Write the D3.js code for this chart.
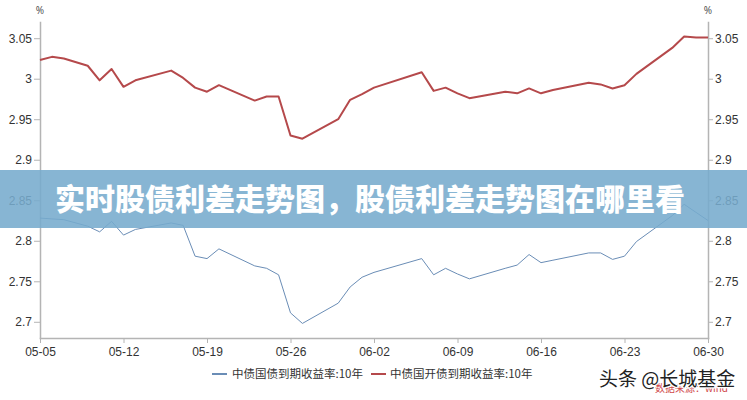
<!DOCTYPE html>
<html><head><meta charset="utf-8">
<script src="https://cdn.jsdelivr.net/npm/d3@7"></script>
<style>
html,body{margin:0;padding:0;background:#fff;}
svg{display:block;font-family:"Noto Sans","Noto Sans CJK SC",sans-serif;}
</style></head>
<body><svg id="c" width="747" height="400"></svg>
<script>
const dates = ["2022-05-05","2022-05-06","2022-05-07","2022-05-09","2022-05-10","2022-05-11","2022-05-12","2022-05-13",
"2022-05-16","2022-05-17","2022-05-18","2022-05-19","2022-05-20","2022-05-23","2022-05-24","2022-05-25","2022-05-26","2022-05-27",
"2022-05-30","2022-05-31","2022-06-01","2022-06-02","2022-06-06","2022-06-07","2022-06-08","2022-06-09","2022-06-10",
"2022-06-13","2022-06-14","2022-06-15","2022-06-16","2022-06-17","2022-06-20","2022-06-21","2022-06-22","2022-06-23","2022-06-24",
"2022-06-27","2022-06-28","2022-06-29","2022-06-30"];
const govBond10Y = [2.828,2.827,2.826,2.818,2.811,2.824,2.807,2.814,
2.822,2.819,2.781,2.778,2.790,2.769,2.766,2.758,2.711,2.698,
2.723,2.743,2.755,2.761,2.778,2.758,2.766,2.759,2.753,
2.766,2.770,2.783,2.773,2.776,2.785,2.785,2.777,2.781,2.799,
2.831,2.845,2.835,2.825];
const cdbBond10Y = [3.023,3.027,3.025,3.016,2.998,3.012,2.990,2.998,
3.010,3.001,2.989,2.984,2.992,2.973,2.978,2.978,2.930,2.926,
2.950,2.974,2.981,2.989,3.008,2.985,2.989,2.982,2.976,
2.984,2.982,2.988,2.982,2.986,2.995,2.993,2.988,2.992,3.006,
3.038,3.052,3.051,3.051];
const seriesNames = ["中债国债到期收益率:10年","中债国开债到期收益率:10年"];
const yTicks = [2.7,2.75,2.8,2.85,2.9,2.95,3,3.05];
const xTickLabels = ["05-05","05-12","05-19","05-26","06-02","06-09","06-16","06-23","06-30"];
const title = "实时股债利差走势图，股债利差走势图在哪里看";
const watermark = "头条 @长城基金";
const source = "数据来源：wind";

const svg = d3.select("#c");
const parse = d3.timeParse("%Y-%m-%d");
const X0 = 40, X1 = 708, Y0 = 338, Y1 = 22;
const x = d3.scaleTime().domain([parse("2022-05-05"), parse("2022-06-30")]).range([X0, X1]);
const y = d3.scaleLinear().domain([2.68, 3.07]).range([Y0, Y1]);
const axisColor = "#b4b4b4", textColor = "#333";

function styleAxis(g){
  g.selectAll(".domain").attr("stroke", axisColor).attr("stroke-width", 1.5);
  g.selectAll(".tick line").attr("stroke", axisColor);
  g.selectAll(".tick text").attr("fill", textColor).style("font-size","12px");
}
const fmt = v => String(+v.toFixed(2));
svg.append("g").attr("transform",`translate(${X0},0)`)
  .call(d3.axisLeft(y).tickValues(yTicks).tickFormat(fmt).tickSize(6).tickPadding(2).tickSizeOuter(0))
  .call(styleAxis);
svg.append("g").attr("transform",`translate(${X1},0)`)
  .call(d3.axisRight(y).tickValues(yTicks).tickFormat(fmt).tickSize(5).tickPadding(2).tickSizeOuter(0))
  .call(styleAxis);
const xt = xTickLabels.map(s => parse("2022-" + s));
svg.append("g").attr("transform",`translate(0,${Y0})`)
  .call(d3.axisBottom(x).tickValues(xt).tickFormat(d3.timeFormat("%m-%d")).tickSize(5).tickPadding(4).tickSizeOuter(0))
  .call(styleAxis);
svg.selectAll(".domain").attr("stroke-linecap","square");

svg.append("text").attr("x",X0).attr("y",14).attr("text-anchor","middle").attr("fill","#555").style("font-size","10px").text("%");
svg.append("text").attr("x",X1).attr("y",14).attr("text-anchor","middle").attr("fill","#555").style("font-size","10px").text("%");

const colors = ["#6a8db6","#b5494b"];
const widths = [1, 2];
[govBond10Y, cdbBond10Y].forEach((vals,i)=>{
  const data = dates.map((d,k)=>({d:parse(d), v:vals[k]}));
  svg.append("path").datum(data)
    .attr("fill","none").attr("stroke",colors[i]).attr("stroke-width",widths[i])
    .attr("stroke-linejoin","round")
    .attr("d", d3.line().x(p=>x(p.d)).y(p=>y(p.v)));
});

// legend
const legendPos = [[212,232],[371,390]];
seriesNames.forEach((n,i)=>{
  const [lx,tx] = legendPos[i];
  svg.append("line").attr("x1",lx).attr("x2",lx+15).attr("y1",374).attr("y2",374)
    .attr("stroke",colors[i]).attr("stroke-width",2);
  svg.append("text").attr("x",tx).attr("y",378).attr("fill",textColor)
    .style("font-size","11.5px").style("font-family","'Noto Sans CJK SC',sans-serif").text(n);
});

// source and watermark (overlapping, as in the original)
svg.append("text").attr("x",655).attr("y",392).attr("fill","#d0474a")
  .style("font-size","10px").style("font-family","'Noto Sans CJK SC',sans-serif").text(source);
svg.append("text").attr("x",599).attr("y",386).attr("fill","#222")
  .attr("stroke","#fff").attr("stroke-width",2.5).attr("paint-order","stroke")
  .style("font-size","19px").style("font-family","'Noto Sans CJK SC',sans-serif").text(watermark);

// banner overlay
svg.append("rect").attr("x",0).attr("y",170).attr("width",747).attr("height",58)
  .attr("fill","rgb(118,171,205)").attr("opacity",0.88);
svg.append("text").attr("x",370).attr("y",210).attr("text-anchor","middle")
  .attr("fill","#fff").style("font-size","30px").style("font-weight","900")
  .style("font-family","'Noto Sans CJK SC',sans-serif")
  .text(title);
</script></body></html>
